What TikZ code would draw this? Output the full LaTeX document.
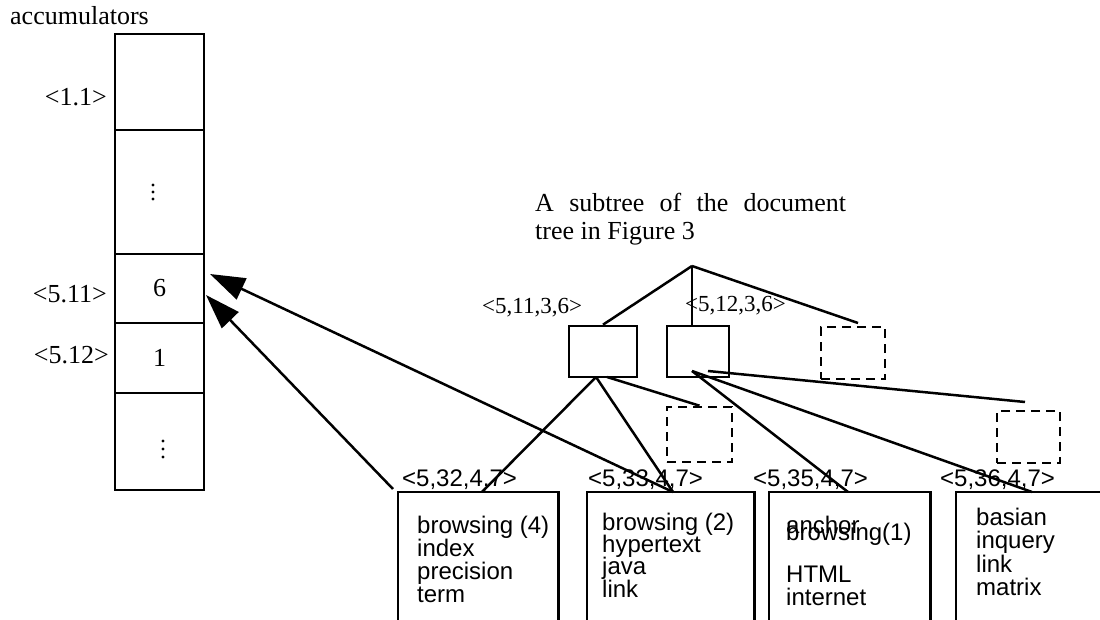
\documentclass[tikz,border=0pt]{standalone}
\usepackage{fontspec}
\setmainfont{Liberation Serif}
\newfontfamily\hvfont{Liberation Sans}
\usetikzlibrary{arrows.meta}
\begin{document}
\begin{tikzpicture}[x=1pt,y=-1pt,
  line/.style={line width=2.5pt},
  cell/.style={draw,line width=2.6pt,rectangle,inner sep=0pt,minimum width=89pt,font=\fontsize{26}{28}\selectfont},
  tbox/.style={draw,line width=2.6pt,rectangle,inner sep=0pt},
  dbox/.style={draw,line width=2.6pt,rectangle,inner sep=0pt,dash pattern=on 9pt off 6pt},
  serif/.style={font=\fontsize{26}{28}\selectfont,inner sep=0pt},
  small/.style={font=\fontsize{23}{25}\selectfont,inner sep=0pt,anchor=base west},
  sans/.style={font=\hvfont\fontsize{24}{24}\selectfont,inner sep=0pt,anchor=base west},
  docbox/.style={rectangle,inner sep=0pt,minimum height=133pt},
  boxside/.style={line width=2.6pt},
  arr/.style={line width=2.5pt,-{Triangle[length=35pt,width=23pt]}},
]
\useasboundingbox (0,0) rectangle (1100,620);
\clip (0,0) rectangle (1100,620);

% accumulators
\node[serif,anchor=base west] (acctitle) at (10,25) {accumulators};
\node[cell,minimum height=96pt] (acc1) at (159.5,82) {};
\node[cell,minimum height=124pt] (acc2) at (159.5,192) {};
\node[cell,minimum height=69pt] (acc3) at (159.5,288.5) {6};
\node[cell,minimum height=70pt] (acc4) at (159.5,358) {1};
\node[cell,minimum height=97pt] (acc5) at (159.5,441.5) {};
\foreach \d in {185,192,199} \fill (153,\d) circle (1.7pt);
\foreach \d in {441,449,457} \fill (163,\d) circle (1.7pt);
\node[serif,anchor=base east] (l1) at (107,106) {<1.1>};
\node[serif,anchor=base east] (l3) at (107,302) {<5.11>};
\node[serif,anchor=base east] (l4) at (109,363) {<5.12>};

% subtree title
\node[serif,anchor=base west] (title1) at (535,212) {\makebox[311pt][s]{A subtree of the document}};
\node[serif,anchor=base west] (title2) at (535,240) {tree in Figure 3};

% tree nodes
\coordinate (root) at (692,266);
\node[tbox,minimum width=68pt,minimum height=51pt] (lb) at (603,351.5) {};
\node[tbox,minimum width=62pt,minimum height=51pt] (mb) at (698,351.5) {};
\node[dbox,minimum width=64pt,minimum height=52pt] (db1) at (853,353) {};
\node[dbox,minimum width=65pt,minimum height=55pt] (db2) at (699.5,434.5) {};
\node[dbox,minimum width=63pt,minimum height=52pt] (db3) at (1028.5,437) {};
\node[small] (lab1) at (482,313) {<5,11,3,6>};
\node[small] (lab2) at (685,312) {<5,12,3,6>};

% document boxes
\node[docbox,minimum width=160pt] (b1) at (478,558.5) {};
\node[docbox,minimum width=167pt] (b2) at (670.5,558.5) {};
\node[docbox,minimum width=161pt] (b3) at (849.5,558.5) {};
\node[docbox,minimum width=164pt] (b4) at (1038,558.5) {};
\foreach \b in {b1,b2,b3,b4}
  \draw[boxside] (\b.south west) |- (\b.north east) -- (\b.south east);

\node[sans] (bl1) at (402,486) {<5,32,4,7>};
\node[sans] (bl2) at (588,486) {<5,33,4,7>};
\node[sans] (bl3) at (753,486) {<5,35,4,7>};
\node[sans] (bl4) at (940,486) {<5,36,4,7>};

\node[sans] (t11) at (417,533) {browsing (4)};
\node[sans] (t12) at (417,556) {index};
\node[sans] (t13) at (417,579) {precision};
\node[sans] (t14) at (417,602) {term};

\node[sans] (t21) at (602,530) {browsing (2)};
\node[sans] (t22) at (602,552) {hypertext};
\node[sans] (t23) at (602,574) {java};
\node[sans] (t24) at (602,597) {link};

\node[sans] (t31) at (786,533) {anchor};
\node[sans] (t32) at (786,540) {browsing(1)};
\node[sans] (t33) at (786,582) {HTML};
\node[sans] (t34) at (786,605) {internet};

\node[sans] (t41) at (976,525) {basian};
\node[sans] (t42) at (976,548) {inquery};
\node[sans] (t43) at (976,572) {link};
\node[sans] (t44) at (976,595) {matrix};

% attach points
\coordinate (lbs1) at (596,377);
\coordinate (lbs2) at (607,377);
\coordinate (mbs1) at (692,371);
\coordinate (mbs2) at (708,371);
\coordinate (b1in) at (482,492);
\coordinate (b2in) at (673,492);
\coordinate (b3in) at (848,492);
\coordinate (b4in) at (1032,492);
\coordinate (db1in) at (858,323);
\coordinate (db3in) at (1025,402);
\coordinate (b1out) at (393,489);
\coordinate (tip1) at (210,274);
\coordinate (tip2) at (206,295);

% tree edges
\draw[line] (root) -- (lb.north);
\draw[line] (root) -- (root |- mb.north);
\draw[line] (root) -- (db1in);
\draw[line] (lbs1) -- (b1in);
\draw[line] (lbs1) -- (b2in);
\draw[line] (lbs2) -- (db2.north);
\draw[line] (mbs1) -- (b3in);
\draw[line] (mbs1) -- (b4in);
\draw[line] (mbs2) -- (db3in);

% arrows
\draw[arr] (b2in) -- (tip1);
\draw[arr] (b1out) -- (tip2);
\end{tikzpicture}
\end{document}
